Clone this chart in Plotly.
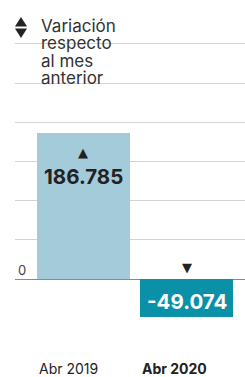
import plotly.graph_objects as go

categories = ["Abr 2019", "Abr 2020"]
values = [186785, -49074]
value_labels = ["186.785", "-49.074"]
bar_colors = ["#a3cbd9", "#0a91a8"]
tick_vals = [0, 50000, 100000, 150000, 200000, 250000, 300000]
tick_text = ["0", "", "", "", "", "", ""]
header_lines = ["Variación", "respecto", "al mes", "anterior"]

W, H = 245, 377
ML = 15
FONT = "Inter"

x_pos = list(range(len(categories)))

fig = go.Figure()
fig.add_trace(go.Bar(
    x=x_pos, y=values, width=0.9,
    marker=dict(color=bar_colors, line=dict(width=0)),
    hoverinfo="skip",
))

def px_to_paper_x(px):
    return (px - ML) / (W - ML)

def px_to_paper_y(py):
    return 1 - py / H

def tri_path(pts):
    s = "M %f %f" % (px_to_paper_x(pts[0][0]), px_to_paper_y(pts[0][1]))
    for p in pts[1:]:
        s += " L %f %f" % (px_to_paper_x(p[0]), px_to_paper_y(p[1]))
    return s + " Z"

shapes = [
    dict(type="path", xref="paper", yref="paper",
         path=tri_path([(15, 26.5), (27, 26.5), (21, 17)]),
         fillcolor="#222", line=dict(width=0)),
    dict(type="path", xref="paper", yref="paper",
         path=tri_path([(15, 28.5), (27, 28.5), (21, 38)]),
         fillcolor="#222", line=dict(width=0)),
]

ann = []
# header text
for i, line in enumerate(header_lines):
    ann.append(dict(text=line, x=px_to_paper_x(39), y=px_to_paper_y(26 + i * 17.3),
                    xref="paper", yref="paper", showarrow=False,
                    xanchor="left", yanchor="middle",
                    font=dict(family=FONT, size=17, color="#333")))

# value labels
for i, (v, lab) in enumerate(zip(values, value_labels)):
    if v >= 0:
        ann.append(dict(text="▲", x=i, y=v, xref="x", yref="y", showarrow=False,
                        xanchor="center", yanchor="middle", yshift=-20,
                        font=dict(family="DejaVu Sans", size=13, color="#222")))
        ann.append(dict(text="<b>%s</b>" % lab, x=i, y=v, xref="x", yref="y", showarrow=False,
                        xanchor="center", yanchor="middle", yshift=-44,
                        font=dict(family=FONT, size=20.5, color="#222")))
    else:
        ann.append(dict(text="▼", x=i, y=0, xref="x", yref="y", showarrow=False,
                        xanchor="center", yanchor="middle", yshift=12,
                        font=dict(family="DejaVu Sans", size=13, color="#222")))
        ann.append(dict(text="<b>%s</b>" % lab, x=i, y=v, xref="x", yref="y", showarrow=False,
                        xanchor="center", yanchor="middle", yshift=16,
                        font=dict(family=FONT, size=20.5, color="#ffffff")))

# category labels (left aligned with bars)
for i, c in enumerate(categories):
    txt = c if i == 0 else "<b>%s</b>" % c
    ann.append(dict(text=txt, x=i - 0.45, y=px_to_paper_y(368), xref="x", yref="paper",
                    showarrow=False, xanchor="left", yanchor="middle",
                    font=dict(family=FONT, size=14, color="#222")))

fig.update_layout(
    width=W, height=H,
    margin=dict(l=ML, r=0, t=0, b=0, pad=0),
    paper_bgcolor="white", plot_bgcolor="white",
    showlegend=False,
    bargap=0,
    annotations=ann,
    shapes=shapes,
    xaxis=dict(range=[-0.661, 1.565], showgrid=False, zeroline=False,
               showticklabels=False, ticks="", fixedrange=True),
    yaxis=dict(range=[-125000, 355867], tickvals=tick_vals, ticktext=tick_text,
               showgrid=True, gridcolor="#d4d4d4", gridwidth=1,
               zeroline=True, zerolinecolor="#8a8a8a", zerolinewidth=1,
               ticklabelposition="inside", ticks="",
               tickfont=dict(family=FONT, size=13, color="#444"),
               ticklabelshift=-9, ticklabelstandoff=0, fixedrange=True),
)

fig.write_html("out.html", config={"displayModeBar": False},
               post_script="document.body.style.margin='0';document.body.style.overflow='hidden';")
